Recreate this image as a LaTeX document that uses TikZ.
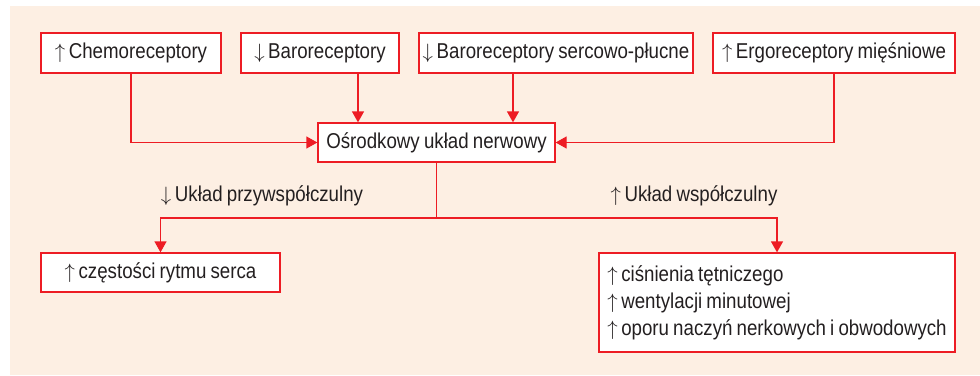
\documentclass[tikz,border=0pt]{standalone}
\usepackage{fontspec}
\setmainfont[FakeStretch=0.87, WordSpace=0.8]{Liberation Sans}
\usepackage{tikz}
\usetikzlibrary{
    arrows.meta,
    positioning,
    calc
}
\definecolor{darkred}{RGB}{237,28,36}
\definecolor{beige}{RGB}{253,239,227}
\definecolor{ink}{RGB}{35,31,32}
\newcommand{\uparr}{$\uparrow$\,}
\newcommand{\downarr}{$\downarrow$\,}
\tikzstyle{box} = [
    rectangle,
    draw=darkred,
    fill=white,
    line width=1.3pt,
    minimum height=40pt,
    inner sep=0pt,
    text=ink,
    font=\fontsize{21.5}{27}\selectfont
]
\tikzstyle{arrow} = [
    -{Triangle[width=12pt,length=11pt]},
    line width=1.3pt,
    draw=darkred
]
\tikzstyle{line} = [
    line width=1.3pt,
    draw=darkred
]
\tikzstyle{label} = [
    text=ink,
    font=\fontsize{21.5}{27}\selectfont
]

\begin{document}
\begin{tikzpicture}[x=1pt, y=-1pt]
        % Background panel
        \useasboundingbox (0,0) rectangle (980,375);
        \fill[beige] (10,6) rectangle (980,375);

        % Receptor boxes
        \node[box, minimum width=180pt] (chemo) at (131,53) {\uparr Chemoreceptory};
        \node[box, minimum width=158pt] (baro) at (320,53) {\downarr Baroreceptory};
        \node[box, minimum width=274pt] (baroSP) at (556,53) {\downarr Baroreceptory sercowo-płucne};
        \node[box, minimum width=242pt] (ergo) at (834,53) {\uparr Ergoreceptory mięśniowe};

        % Central nervous system
        \node[box, minimum width=237pt, minimum height=39pt] (cns) at (436.5,142.5) {Ośrodkowy układ nerwowy};

        % Effect boxes
        \node[box, minimum width=239pt, minimum height=39pt] (heart) at (160.5,272.5) {\uparr częstości rytmu serca};
        \node[box, minimum width=356pt, minimum height=99pt, align=left] (effects) at (777,302.5)
            {\uparr ciśnienia tętniczego\\ \uparr wentylacji minutowej\\ \uparr oporu naczyń nerkowych i obwodowych};

        % Inputs to the centre
        \draw[arrow] (chemo.south) |- (cns.west);
        \draw[arrow] ([xshift=38pt]baro.south) -- ([xshift=38pt]baro.south |- cns.north);
        \draw[arrow] ([xshift=-43pt]baroSP.south) -- ([xshift=-43pt]baroSP.south |- cns.north);
        \draw[arrow] (ergo.south) |- (cns.east);

        % Outputs
        \coordinate (split) at (436.5,218);
        \draw[line] (cns.south) -- (split);
        \draw[arrow] (split) -| (heart.north);
        \draw[arrow] (split) -| (effects.north);

        % Branch labels
        \node[label] (para) at (262,196) {\downarr Układ przywspółczulny};
        \node[label] (symp) at (694,196) {\uparr Układ współczulny};
    \end{tikzpicture}
\end{document}
